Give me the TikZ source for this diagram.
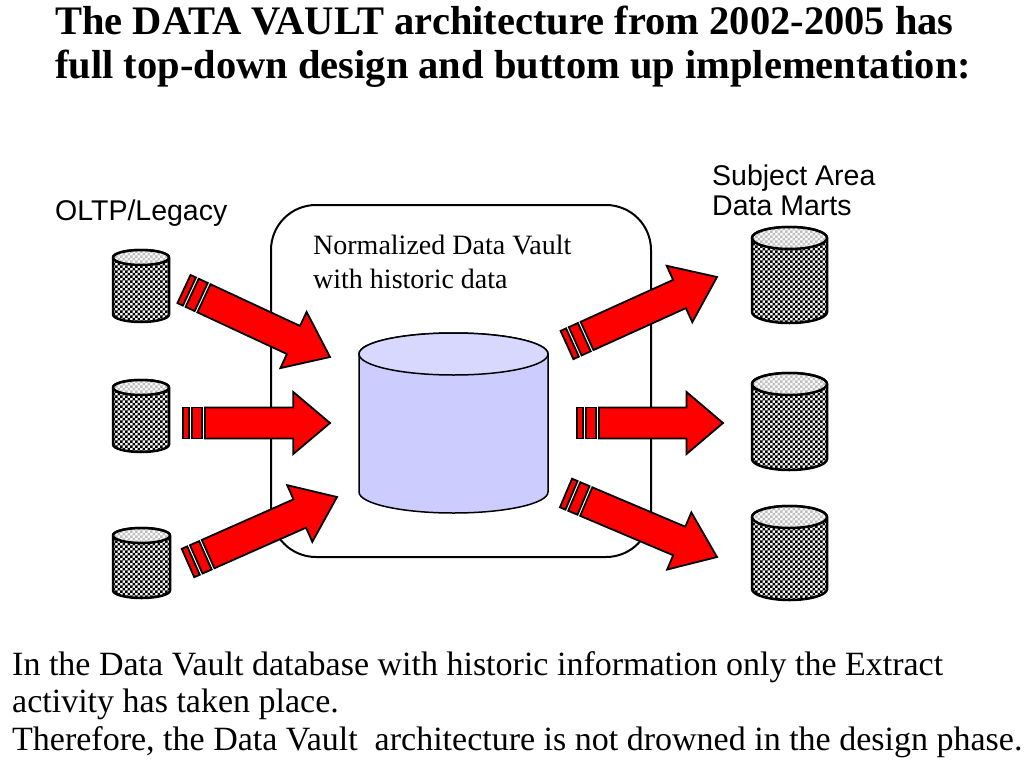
\documentclass[tikz,border=0pt]{standalone}
\usepackage{fontspec}
\setmainfont{Liberation Serif}
\newfontfamily\labelsans{Liberation Sans}
\usetikzlibrary{patterns}
\pgfdeclarepatternformonly{finechecker}{\pgfqpoint{-0.1pt}{-0.1pt}}{\pgfqpoint{5.1pt}{5.1pt}}{\pgfqpoint{5pt}{5pt}}{%
 \pgfpathrectangle{\pgfqpoint{0pt}{0pt}}{\pgfqpoint{2.5pt}{2.5pt}}%
 \pgfpathrectangle{\pgfqpoint{2.5pt}{2.5pt}}{\pgfqpoint{2.5pt}{2.5pt}}%
 \pgfusepath{fill}}
\definecolor{arrowred}{RGB}{255,0,0}
\definecolor{vaultbody}{RGB}{204,204,255}
\definecolor{vaulttop}{RGB}{216,216,255}
\tikzset{
 txt/.style={inner sep=0pt, anchor=base west},
 titletxt/.style={txt, font=\fontsize{40.5}{44}\selectfont\bfseries},
 bodytxt/.style={txt, font=\fontsize{34}{38}\selectfont},
 vaulttxt/.style={txt, font=\fontsize{28}{34}\selectfont},
 sanstxt/.style={txt, font=\labelsans\fontsize{28.5}{31}\selectfont},
 redshape/.style={fill=arrowred, draw=black, line width=1.8pt, line join=miter},
 dbline/.style={draw=black, line width=2.5pt},
 vaultbox/.style={draw=black, line width=2pt, rounded corners=45pt},
 vaultline/.style={draw=black, line width=1.5pt},
}
% name, x0, x1, y0, y1, ry
\newcommand\dbcyl[6]{%
 \pgfmathsetmacro\cx{(#2+#3)/2}%
 \pgfmathsetmacro\rx{(#3-#2)/2}%
 \pgfmathsetmacro\ya{#4+#6}%
 \pgfmathsetmacro\yb{#5-#6}%
 \path[dbline, preaction={fill=white}, pattern=finechecker, pattern color=black]
   (#2,\ya) -- (#2,\yb) arc[start angle=180,end angle=360,x radius=\rx pt,y radius=#6pt]
   -- (#3,\ya) arc[start angle=0,end angle=180,x radius=\rx pt,y radius=#6pt] -- cycle;
 \path[preaction={fill=white}, pattern=finechecker, pattern color=gray!50]
   (\cx,\ya) ellipse[x radius=\rx pt, y radius=#6pt];
 \draw[dbline] (#2,\ya) arc[start angle=180,end angle=360,x radius=\rx pt,y radius=#6pt];
 \draw[dbline] (#2,\ya) arc[start angle=180,end angle=0,x radius=\rx pt,y radius=#6pt];
 \coordinate (#1) at (\cx,{(#4+#5)/2});%
}
% start coordinate, tip coordinate
\newcommand\redarrow[2]{%
 \path (#1); \pgfgetlastxy\axx\ayy
 \path (#2); \pgfgetlastxy\bxx\byy
 \pgfmathsetmacro\ang{atan2(\byy-\ayy,\bxx-\axx)}%
 \pgfmathsetmacro\len{veclen(\bxx-\axx,\byy-\ayy)}%
 \pgfmathsetmacro\hb{0.75*\len}%
 \begin{scope}[shift={(#1)}, rotate=\ang, x=1pt, y=1pt]
  \path[redshape] (0,-15.5) rectangle (6,15.5);
  \path[redshape] (9,-15.5) rectangle (19,15.5);
  \path[redshape] (22,-15.5) -- (\hb,-15.5) -- (\hb,-31) -- (\len,0)
     -- (\hb,31) -- (\hb,15.5) -- (22,15.5) -- cycle;
 \end{scope}%
}
\begin{document}
\begin{tikzpicture}[x=1pt,y=-1pt]
\useasboundingbox[fill=white] (0,0) rectangle (1024,768);
% title
\node[titletxt] (title1) at (55,35) {The DATA VAULT architecture from 2002-2005 has};
\node[titletxt] (title2) at (55,78) {full top-down design and buttom up implementation:};
% labels
\node[sanstxt] (oltp) at (55,220) {OLTP/Legacy};
\node[sanstxt] (sa1) at (712,185) {Subject Area};
\node[sanstxt] (sa2) at (712,215) {Data Marts};
% vault box
\draw[vaultbox] (271,205) rectangle (651,557);
\node[vaulttxt] (vt1) at (313,254) {Normalized Data Vault};
\node[vaulttxt] (vt2) at (313,288) {with historic data};
% vault cylinder
\path[vaultline, fill=vaultbody] (359,354) -- (359,492)
  arc[start angle=180,end angle=360,x radius=94.5pt,y radius=21pt]
  -- (548,354) arc[start angle=0,end angle=180,x radius=94.5pt,y radius=21pt] -- cycle;
\path[vaultline, fill=vaulttop] (453.5,354) ellipse[x radius=94.5pt, y radius=21pt];
\coordinate (vault) at (453.5,423);
% source and mart cylinders
\dbcyl{src1}{113}{169}{250}{322}{7.5}
\dbcyl{src2}{113}{169}{380}{452}{7.5}
\dbcyl{src3}{113}{170}{528}{598}{7.5}
\dbcyl{dm1}{752}{827}{227}{323}{11}
\dbcyl{dm2}{752}{827}{373}{470}{11}
\dbcyl{dm3}{752}{827}{506}{600}{11}
% arrow ends
\coordinate (a1s) at (184,289); \coordinate (a1t) at (330,357);
\coordinate (a2s) at (183,423); \coordinate (a2t) at (330,423);
\coordinate (a3s) at (188,563); \coordinate (a3t) at (337,497);
\coordinate (a4s) at (567,345); \coordinate (a4t) at (717,277);
\coordinate (a5s) at (577,423); \coordinate (a5t) at (723,423);
\coordinate (a6s) at (566,493); \coordinate (a6t) at (717,557);
\redarrow{a1s}{a1t}
\redarrow{a2s}{a2t}
\redarrow{a3s}{a3t}
\redarrow{a4s}{a4t}
\redarrow{a5s}{a5t}
\redarrow{a6s}{a6t}
% bottom text
\node[bodytxt] (b1) at (12,675) {In the Data Vault database with historic information only the Extract};
\node[bodytxt] (b2) at (12,712) {activity has taken place.};
\node[bodytxt] (b3) at (12,750) {Therefore, the Data Vault\ \ architecture is not drowned in the design phase.};
\end{tikzpicture}
\end{document}
